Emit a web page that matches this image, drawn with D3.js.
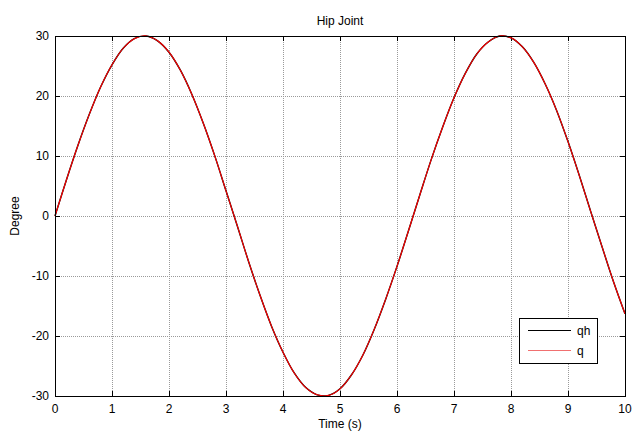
<!DOCTYPE html>
<html>
<head>
<meta charset="utf-8">
<script src="https://cdn.jsdelivr.net/npm/d3@7"></script>
<style>
  html, body { margin: 0; padding: 0; background: #fff; }
  svg { display: block; }
  text { font-family: "Liberation Sans", Arial, sans-serif; fill: #000; }
</style>
</head>
<body>
<svg id="chart" width="633" height="435"></svg>
<script>
// Sample times (s), 0.2 s apart
const time = [0,0.2,0.4,0.6,0.8,1.0,1.2,1.4,1.6,1.8,2.0,2.2,2.4,2.6,2.8,3.0,3.2,3.4,3.6,3.8,
  4.0,4.2,4.4,4.6,4.8,5.0,5.2,5.4,5.6,5.8,6.0,6.2,6.4,6.6,6.8,7.0,7.2,7.4,7.6,7.8,
  8.0,8.2,8.4,8.6,8.8,9.0,9.2,9.4,9.6,9.8,10.0];

// Reference hip angle qh (degrees)
const qh = [0,6.0,11.7,16.9,21.5,25.2,28.0,29.6,30.0,29.2,27.3,24.3,20.3,15.5,10.1,4.2,
  -1.7,-7.7,-13.3,-18.4,-22.7,-26.2,-28.6,-29.8,-29.9,-28.8,-26.5,-23.2,-18.9,-13.9,
  -8.4,-2.5,3.5,9.4,14.8,19.7,23.8,27.0,29.0,30.0,29.7,28.2,25.6,22.0,17.6,12.4,
  6.7,0.7,-5.2,-11.0,-16.3];

// Measured hip angle q (degrees)
const q = [0,6.0,11.7,16.9,21.5,25.2,28.0,29.6,30.0,29.2,27.3,24.3,20.3,15.5,10.1,4.2,
  -1.7,-7.7,-13.3,-18.4,-22.7,-26.2,-28.6,-29.8,-29.9,-28.8,-26.5,-23.2,-18.9,-13.9,
  -8.4,-2.5,3.5,9.4,14.8,19.7,23.8,27.0,29.0,30.0,29.7,28.2,25.6,22.0,17.6,12.4,
  6.7,0.7,-5.2,-11.0,-16.3];

const xTicks = [0,1,2,3,4,5,6,7,8,9,10];
const yTicks = [-30,-20,-10,0,10,20,30];
const seriesNames = ["qh", "q"];
const seriesColors = ["#000000", "#ff0000"];

const svg = d3.select("#chart");
const pL = 55, pR = 625, pT = 36, pB = 396;

const x = d3.scaleLinear().domain([0, 10]).range([pL, pR]);
const y = d3.scaleLinear().domain([-30, 30]).range([pB, pT]);

const fontSize = 12;

// grid
const grid = svg.append("g")
  .attr("stroke", "#9a9a9a")
  .attr("stroke-width", 1)
  .attr("stroke-dasharray", "1,1")
  .attr("shape-rendering", "crispEdges");
grid.selectAll("line.v").data(xTicks.slice(1, -1)).enter().append("line")
  .attr("x1", d => Math.round(x(d)) + 0.5).attr("x2", d => Math.round(x(d)) + 0.5)
  .attr("y1", pT).attr("y2", pB);
grid.selectAll("line.h").data(yTicks.slice(1, -1)).enter().append("line")
  .attr("x1", pL).attr("x2", pR)
  .attr("y1", d => Math.round(y(d)) + 0.5).attr("y2", d => Math.round(y(d)) + 0.5);

// inward ticks on all four sides
const tickLen = 5;
const axisG = svg.append("g").attr("stroke", "#000").attr("stroke-width", 1)
  .attr("shape-rendering", "crispEdges");
xTicks.forEach(t => {
  const px = Math.round(x(t)) + 0.5;
  axisG.append("line").attr("x1", px).attr("x2", px).attr("y1", pB).attr("y2", pB - tickLen);
  axisG.append("line").attr("x1", px).attr("x2", px).attr("y1", pT).attr("y2", pT + tickLen);
});
yTicks.forEach(t => {
  const py = Math.round(y(t)) + 0.5;
  axisG.append("line").attr("x1", pL).attr("x2", pL + tickLen).attr("y1", py).attr("y2", py);
  axisG.append("line").attr("x1", pR).attr("x2", pR - tickLen).attr("y1", py).attr("y2", py);
});

// tick labels
svg.append("g").selectAll("text").data(xTicks).enter().append("text")
  .attr("x", d => x(d)).attr("y", pB + 17)
  .attr("text-anchor", "middle").attr("font-size", fontSize)
  .text(d => d);
svg.append("g").selectAll("text").data(yTicks).enter().append("text")
  .attr("x", pL - 6).attr("y", d => y(d) + 4)
  .attr("text-anchor", "end").attr("font-size", fontSize)
  .text(d => d);

// lines
const line = d3.line()
  .x((d, i) => x(time[i]))
  .y(d => y(d))
  .curve(d3.curveCatmullRom);

const plot = svg.append("g");
[qh, q].forEach((vals, k) => {
  plot.append("path")
    .datum(vals)
    .attr("fill", "none")
    .attr("stroke", seriesColors[k])
    .attr("stroke-width", k === 0 ? 1.4 : 1.1)
    .attr("d", line);
});

// axes box
svg.append("rect")
  .attr("x", pL + 0.5).attr("y", pT + 0.5)
  .attr("width", pR - pL).attr("height", pB - pT)
  .attr("fill", "none").attr("stroke", "#000").attr("stroke-width", 1)
  .attr("shape-rendering", "crispEdges");

// title and axis labels
svg.append("text").attr("x", (pL + pR) / 2).attr("y", 25)
  .attr("text-anchor", "middle").attr("font-size", fontSize).text("Hip Joint");
svg.append("text").attr("x", (pL + pR) / 2).attr("y", 428)
  .attr("text-anchor", "middle").attr("font-size", fontSize).text("Time (s)");
svg.append("text")
  .attr("transform", `translate(19,${(pT + pB) / 2}) rotate(-90)`)
  .attr("text-anchor", "middle").attr("font-size", fontSize).text("Degree");

// legend
const lg = svg.append("g");
lg.append("rect")
  .attr("x", 519.5).attr("y", 318.5).attr("width", 78).attr("height", 45)
  .attr("fill", "#fff").attr("stroke", "#000").attr("stroke-width", 1)
  .attr("shape-rendering", "crispEdges");
seriesNames.forEach((name, k) => {
  const ly = 330.5 + k * 20;
  lg.append("line").attr("x1", 528).attr("x2", 571).attr("y1", ly).attr("y2", ly)
    .attr("stroke", k === 0 ? "#000" : "#f07070").attr("stroke-width", 1);
  lg.append("text").attr("x", 577).attr("y", ly + 4.5).attr("font-size", fontSize).text(name);
});
</script>
</body>
</html>
